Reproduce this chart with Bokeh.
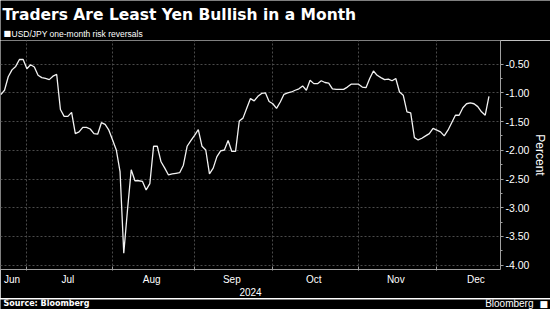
import pandas as pd
from bokeh.plotting import figure
from bokeh.layouts import column
from bokeh.models import FixedTicker, NumeralTickFormatter, Label, Range1d, ColumnDataSource
from bokeh.embed import file_html
from bokeh.resources import INLINE

# ---------------- data ----------------
title_text = "Traders Are Least Yen Bullish in a Month"
series_name = "USD/JPY one-month risk reversals"
source_text = "Source: Bloomberg"
brand_text = "Bloomberg"
y_axis_title = "Percent"
year_label = "2024"
start_date = "2024-06-20"
end_date = "2024-12-20"
month_names = ["Jun", "Jul", "Aug", "Sep", "Oct", "Nov", "Dec"]
y_ticks = [-0.5, -1.0, -1.5, -2.0, -2.5, -3.0, -3.5, -4.0]
y_minor_ticks = [-0.75, -1.25, -1.75, -2.25, -2.75, -3.25, -3.75]

risk_reversals = [
    -1.03, -0.955, -0.72, -0.60, -0.54, -0.42, -0.42,
    -0.58, -0.51, -0.55, -0.695, -0.735, -0.75, -0.77, -0.71, -0.68, -1.29,
    -1.41, -1.41, -1.34, -1.71, -1.68, -1.60, -1.60, -1.63, -1.71, -1.72,
    -1.52, -1.55, -1.65,
    -1.82, -1.995, -2.37, -3.79, -3.04, -2.34, -2.53, -2.53, -2.54, -2.69,
    -2.58, -1.93, -1.93, -2.20, -2.31, -2.43, -2.41, -2.40, -2.39, -2.26,
    -1.93, -1.83,
    -1.74, -1.64, -1.93, -1.995, -2.41, -2.31, -2.11, -2.01, -1.995, -1.83,
    -2.02, -2.02, -1.49, -1.44, -1.27, -1.10, -1.14, -1.06, -1.01, -1.00,
    -1.15,
    -1.19, -1.27, -1.16, -1.025, -1.00, -0.985, -0.955, -0.93, -0.88, -0.955,
    -0.78, -0.84, -0.84, -0.79, -0.82, -0.83, -0.93, -0.94, -0.94, -0.94,
    -0.90, -0.85, -0.85,
    -0.85, -0.90, -0.91, -0.75, -0.62, -0.695, -0.735, -0.77, -0.76, -0.79,
    -0.75, -0.985, -1.04, -1.33, -1.35, -1.78, -1.82, -1.79, -1.75, -1.71,
    -1.62,
    -1.65, -1.68, -1.75, -1.65, -1.52, -1.39, -1.39, -1.26, -1.19, -1.175,
    -1.19, -1.24, -1.33, -1.39, -1.06,
]

# ---------------- derived (weekday axis) ----------------
dates = pd.bdate_range(start_date, end_date)
n = min(len(dates), len(risk_reversals))
xs = list(range(n))
src = ColumnDataSource(dict(x=xs, y=risk_reversals[:n]))

all_days = pd.bdate_range("2024-06-01", "2024-12-31")
offset = list(all_days).index(pd.Timestamp(start_date))
boundaries = []
label_pos = []
for m in range(6, 13):
    idx = [i - offset for i, d in enumerate(all_days) if d.month == m]
    first, last = idx[0], idx[-1]
    if first > 0:
        boundaries.append(first)
    label_pos.append((max(first, 0) + last) / 2)

# ---------------- styling ----------------
BG = "#000000"
GRID = "#4a4a4a"
AXIS = "#a0a0a0"
TXT = "#ffffff"
SMALL_FONT = "Liberation Sans"
W = 550
HEAD_H = 40
FOOT_H = 11
MAIN_H = 309 - HEAD_H - FOOT_H


def blank(h):
    f = figure(width=W, height=h, output_backend="svg", toolbar_location=None,
               x_axis_location=None, y_axis_location=None,
               x_range=Range1d(0, W), y_range=Range1d(0, h),
               min_border=0, min_border_left=0, min_border_right=0,
               min_border_top=0, min_border_bottom=0, frame_align=False)
    f.background_fill_color = BG
    f.border_fill_color = BG
    f.outline_line_color = None
    f.xgrid.visible = False
    f.ygrid.visible = False
    return f


def lab(fig, h, text, x, top_y, size, font, style="normal", align="left"):
    fig.add_layout(Label(x=x, y=h - top_y, x_units="screen", y_units="screen", text=text,
                         text_color=TXT, text_font=font, text_font_size=size,
                         text_font_style=style, text_align=align, text_baseline="middle"))


# header
head = blank(HEAD_H)
lab(head, HEAD_H, title_text, 2, 14, "15.5px", "DejaVu Sans", "bold")
lab(head, HEAD_H, "\u25a0", 3, 33, "8px", "DejaVu Sans")
lab(head, HEAD_H, series_name, 11, 33, "8.5px", SMALL_FONT)

# main chart
p = figure(width=W, height=MAIN_H, output_backend="svg", toolbar_location=None,
           y_axis_location="right",
           x_range=Range1d(-0.08, 134.1), y_range=Range1d(-4.075, -0.089),
           min_border_left=0, min_border_right=44, min_border_top=0, min_border_bottom=28,
           frame_align=False)
p.background_fill_color = BG
p.border_fill_color = BG
p.outline_line_color = None

p.line("x", "y", source=src, line_color="#f2f2f2", line_width=1.3)

# x axis
p.xaxis.ticker = FixedTicker(ticks=label_pos, minor_ticks=boundaries)
p.xaxis.major_label_overrides = {pos: name for pos, name in zip(label_pos, month_names)}
p.xaxis.major_tick_line_color = None
p.xaxis.major_tick_in = 0
p.xaxis.major_tick_out = 0
p.xaxis.minor_tick_line_color = AXIS
p.xaxis.minor_tick_in = 3
p.xaxis.minor_tick_out = 1
p.xaxis.axis_line_color = AXIS
p.xaxis.major_label_text_color = TXT
p.xaxis.major_label_text_font = SMALL_FONT
p.xaxis.major_label_text_font_size = "10px"
p.xaxis.major_label_standoff = 3
p.xaxis.axis_label = year_label
p.xaxis.axis_label_text_color = TXT
p.xaxis.axis_label_text_font = SMALL_FONT
p.xaxis.axis_label_text_font_size = "10px"
p.xaxis.axis_label_text_font_style = "normal"
p.xaxis.axis_label_standoff = 0

# y axis
p.yaxis.ticker = FixedTicker(ticks=y_ticks, minor_ticks=y_minor_ticks)
p.yaxis.formatter = NumeralTickFormatter(format="0.00")
p.yaxis.axis_line_color = AXIS
p.yaxis.major_tick_line_color = AXIS
p.yaxis.minor_tick_line_color = AXIS
p.yaxis.major_tick_in = 0
p.yaxis.major_tick_out = 3
p.yaxis.minor_tick_in = 0
p.yaxis.minor_tick_out = 2
p.yaxis.major_label_text_color = TXT
p.yaxis.major_label_text_font = SMALL_FONT
p.yaxis.major_label_text_font_size = "10.5px"
p.yaxis.major_label_standoff = 2
p.yaxis.axis_label = y_axis_title
p.yaxis.axis_label_text_color = TXT
p.yaxis.axis_label_text_font = SMALL_FONT
p.yaxis.axis_label_text_font_size = "12px"
p.yaxis.axis_label_text_font_style = "normal"
p.yaxis.axis_label_standoff = 1

# grids
p.xgrid.ticker = FixedTicker(ticks=boundaries)
p.ygrid.ticker = FixedTicker(ticks=y_ticks)
for g in (p.xgrid, p.ygrid):
    g.grid_line_color = GRID
    g.grid_line_dash = "2 2"
    g.grid_line_width = 1

# footer
foot = blank(FOOT_H)
lab(foot, FOOT_H, source_text, 3, 4, "8px", "DejaVu Sans", "bold")
lab(foot, FOOT_H, brand_text, 533, 4, "10px", SMALL_FONT, align="right")
lab(foot, FOOT_H, "\u25a0", 539, 4, "9px", "DejaVu Sans")

layout = column(head, p, foot, spacing=0)
open("out.html", "w").write(file_html(layout, INLINE))
